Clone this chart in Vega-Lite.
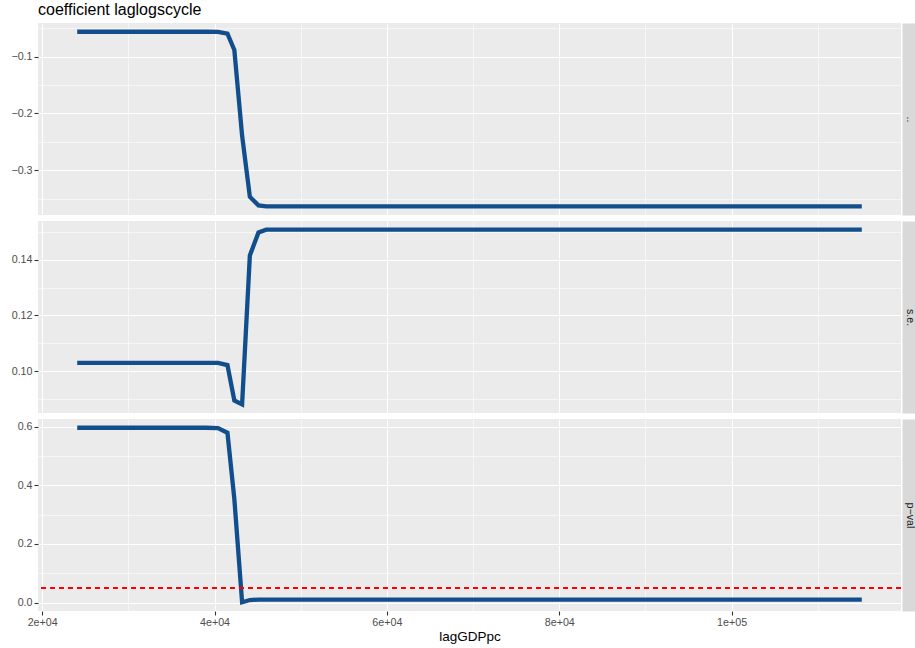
{
  "$schema": "https://vega.github.io/schema/vega-lite/v6.json",
  "background": "white",
  "padding": {"left": 10, "top": 2, "right": 0, "bottom": 4},
  "title": {"text": "coefficient laglogscycle", "anchor": "start", "frame": "group", "fontSize": 16, "fontWeight": "normal", "color": "#000000", "offset": 5, "font": "Liberation Sans"},
  "datasets": {
    "rows": [
      {"stat": "coef", "lagGDPpc": 24070, "value": -0.0558},
      {"stat": "coef", "lagGDPpc": 28000, "value": -0.0558},
      {"stat": "coef", "lagGDPpc": 32000, "value": -0.0558},
      {"stat": "coef", "lagGDPpc": 36000, "value": -0.0558},
      {"stat": "coef", "lagGDPpc": 39000, "value": -0.0558},
      {"stat": "coef", "lagGDPpc": 40400, "value": -0.0560},
      {"stat": "coef", "lagGDPpc": 41500, "value": -0.059},
      {"stat": "coef", "lagGDPpc": 42300, "value": -0.088},
      {"stat": "coef", "lagGDPpc": 43200, "value": -0.239},
      {"stat": "coef", "lagGDPpc": 44100, "value": -0.347},
      {"stat": "coef", "lagGDPpc": 45100, "value": -0.362},
      {"stat": "coef", "lagGDPpc": 46000, "value": -0.3637},
      {"stat": "coef", "lagGDPpc": 55000, "value": -0.3637},
      {"stat": "coef", "lagGDPpc": 65000, "value": -0.3637},
      {"stat": "coef", "lagGDPpc": 75000, "value": -0.3637},
      {"stat": "coef", "lagGDPpc": 85000, "value": -0.3637},
      {"stat": "coef", "lagGDPpc": 95000, "value": -0.3637},
      {"stat": "coef", "lagGDPpc": 105000, "value": -0.3637},
      {"stat": "coef", "lagGDPpc": 115100, "value": -0.3637},
      {"stat": "se", "lagGDPpc": 24070, "value": 0.1030},
      {"stat": "se", "lagGDPpc": 28000, "value": 0.1030},
      {"stat": "se", "lagGDPpc": 32000, "value": 0.1030},
      {"stat": "se", "lagGDPpc": 36000, "value": 0.1030},
      {"stat": "se", "lagGDPpc": 39000, "value": 0.1030},
      {"stat": "se", "lagGDPpc": 40400, "value": 0.1030},
      {"stat": "se", "lagGDPpc": 41500, "value": 0.1022},
      {"stat": "se", "lagGDPpc": 42300, "value": 0.0895},
      {"stat": "se", "lagGDPpc": 43200, "value": 0.0881},
      {"stat": "se", "lagGDPpc": 44100, "value": 0.1415},
      {"stat": "se", "lagGDPpc": 45100, "value": 0.1498},
      {"stat": "se", "lagGDPpc": 46000, "value": 0.1508},
      {"stat": "se", "lagGDPpc": 55000, "value": 0.1508},
      {"stat": "se", "lagGDPpc": 65000, "value": 0.1508},
      {"stat": "se", "lagGDPpc": 75000, "value": 0.1508},
      {"stat": "se", "lagGDPpc": 85000, "value": 0.1508},
      {"stat": "se", "lagGDPpc": 95000, "value": 0.1508},
      {"stat": "se", "lagGDPpc": 105000, "value": 0.1508},
      {"stat": "se", "lagGDPpc": 115100, "value": 0.1508},
      {"stat": "pval", "lagGDPpc": 24070, "value": 0.596},
      {"stat": "pval", "lagGDPpc": 28000, "value": 0.596},
      {"stat": "pval", "lagGDPpc": 32000, "value": 0.596},
      {"stat": "pval", "lagGDPpc": 36000, "value": 0.596},
      {"stat": "pval", "lagGDPpc": 39000, "value": 0.596},
      {"stat": "pval", "lagGDPpc": 40400, "value": 0.595},
      {"stat": "pval", "lagGDPpc": 41500, "value": 0.579},
      {"stat": "pval", "lagGDPpc": 42300, "value": 0.353},
      {"stat": "pval", "lagGDPpc": 43200, "value": 0.001},
      {"stat": "pval", "lagGDPpc": 44100, "value": 0.0086},
      {"stat": "pval", "lagGDPpc": 45100, "value": 0.0103},
      {"stat": "pval", "lagGDPpc": 46000, "value": 0.0103},
      {"stat": "pval", "lagGDPpc": 55000, "value": 0.0103},
      {"stat": "pval", "lagGDPpc": 65000, "value": 0.0103},
      {"stat": "pval", "lagGDPpc": 75000, "value": 0.0103},
      {"stat": "pval", "lagGDPpc": 85000, "value": 0.0103},
      {"stat": "pval", "lagGDPpc": 95000, "value": 0.0103},
      {"stat": "pval", "lagGDPpc": 105000, "value": 0.0103},
      {"stat": "pval", "lagGDPpc": 115100, "value": 0.0103}
    ]
  },
  "data": {"name": "rows"},
  "spacing": 6,
  "vconcat": [
    {
      "width": 863, "height": 192,
      "transform": [{"filter": "datum.stat == 'coef'"}],
      "layer": [
        {
          "mark": {"type": "line", "opacity": 0},
          "encoding": {
            "x": {"field": "lagGDPpc", "type": "quantitative", "scale": {"domain": [19519, 119651], "nice": false, "zero": false},
                  "axis": {"orient": "top", "values": [30000, 50000, 70000, 90000, 110000], "grid": true, "gridWidth": 0.55, "labels": false, "ticks": false, "title": null}},
            "y": {"field": "value", "type": "quantitative", "scale": {"domain": [-0.379, -0.0404], "nice": false, "zero": false},
                  "axis": {"orient": "right", "values": [-0.35, -0.25, -0.15, -0.05], "grid": true, "gridWidth": 0.55, "labels": false, "ticks": false, "title": null}}
          }
        },
        {
          "mark": {"type": "line", "opacity": 0},
          "encoding": {
            "x": {"field": "lagGDPpc", "type": "quantitative", "axis": null},
            "y": {"field": "value", "type": "quantitative",
                  "axis": {"orient": "right", "offset": 8, "domain": true, "domainColor": "#D9D9D9", "domainWidth": 14, "grid": false, "labels": false, "ticks": false,
                           "title": "..", "titleAngle": 90, "titleX": 0, "titleY": 96, "titleAlign": "center", "titleBaseline": "middle", "titleFontSize": 10.7, "titleColor": "#1A1A1A", "titleFontWeight": "normal", "titlePadding": 0}}
          }
        },
        {
          "mark": {"type": "line", "color": "#124E8C", "strokeWidth": 4.3},
          "encoding": {
            "x": {"field": "lagGDPpc", "type": "quantitative",
                  "axis": {"orient": "bottom", "values": [20000, 40000, 60000, 80000, 100000], "grid": true, "gridWidth": 1.1, "labels": false, "ticks": false, "title": null}},
            "y": {"field": "value", "type": "quantitative",
                  "axis": {"orient": "left", "values": [-0.3, -0.2, -0.1], "format": ".1f", "grid": true, "gridWidth": 1.1, "title": null}}
          }
        }
      ],
      "resolve": {"axis": {"x": "independent", "y": "independent"}}
    },
    {
      "width": 863, "height": 192,
      "transform": [{"filter": "datum.stat == 'se'"}],
      "layer": [
        {
          "mark": {"type": "line", "opacity": 0},
          "encoding": {
            "x": {"field": "lagGDPpc", "type": "quantitative", "scale": {"domain": [19519, 119651], "nice": false, "zero": false},
                  "axis": {"orient": "top", "values": [30000, 50000, 70000, 90000, 110000], "grid": true, "gridWidth": 0.55, "labels": false, "ticks": false, "title": null}},
            "y": {"field": "value", "type": "quantitative", "scale": {"domain": [0.0850, 0.1539], "nice": false, "zero": false},
                  "axis": {"orient": "right", "values": [0.09, 0.11, 0.13, 0.15], "grid": true, "gridWidth": 0.55, "labels": false, "ticks": false, "title": null}}
          }
        },
        {
          "mark": {"type": "line", "opacity": 0},
          "encoding": {
            "x": {"field": "lagGDPpc", "type": "quantitative", "axis": null},
            "y": {"field": "value", "type": "quantitative",
                  "axis": {"orient": "right", "offset": 8, "domain": true, "domainColor": "#D9D9D9", "domainWidth": 14, "grid": false, "labels": false, "ticks": false,
                           "title": "s.e.", "titleAngle": 90, "titleX": 0, "titleY": 96, "titleAlign": "center", "titleBaseline": "middle", "titleFontSize": 10.7, "titleColor": "#1A1A1A", "titleFontWeight": "normal", "titlePadding": 0}}
          }
        },
        {
          "mark": {"type": "line", "color": "#124E8C", "strokeWidth": 4.3},
          "encoding": {
            "x": {"field": "lagGDPpc", "type": "quantitative",
                  "axis": {"orient": "bottom", "values": [20000, 40000, 60000, 80000, 100000], "grid": true, "gridWidth": 1.1, "labels": false, "ticks": false, "title": null}},
            "y": {"field": "value", "type": "quantitative",
                  "axis": {"orient": "left", "values": [0.10, 0.12, 0.14], "format": ".2f", "grid": true, "gridWidth": 1.1, "title": null}}
          }
        }
      ],
      "resolve": {"axis": {"x": "independent", "y": "independent"}}
    },
    {
      "width": 863, "height": 192,
      "transform": [{"filter": "datum.stat == 'pval'"}],
      "layer": [
        {
          "mark": {"type": "line", "opacity": 0},
          "encoding": {
            "x": {"field": "lagGDPpc", "type": "quantitative", "scale": {"domain": [19519, 119651], "nice": false, "zero": false},
                  "axis": {"orient": "top", "values": [30000, 50000, 70000, 90000, 110000], "grid": true, "gridWidth": 0.55, "labels": false, "ticks": false, "title": null}},
            "y": {"field": "value", "type": "quantitative", "scale": {"domain": [-0.0288, 0.6258], "nice": false, "zero": false},
                  "axis": {"orient": "right", "values": [0.1, 0.3, 0.5], "grid": true, "gridWidth": 0.55, "labels": false, "ticks": false, "title": null}}
          }
        },
        {
          "mark": {"type": "line", "opacity": 0},
          "encoding": {
            "x": {"field": "lagGDPpc", "type": "quantitative", "axis": null},
            "y": {"field": "value", "type": "quantitative",
                  "axis": {"orient": "right", "offset": 8, "domain": true, "domainColor": "#D9D9D9", "domainWidth": 14, "grid": false, "labels": false, "ticks": false,
                           "title": "p−val", "titleAngle": 90, "titleX": 0, "titleY": 96, "titleAlign": "center", "titleBaseline": "middle", "titleFontSize": 10.7, "titleColor": "#1A1A1A", "titleFontWeight": "normal", "titlePadding": 0}}
          }
        },
        {
          "mark": {"type": "line", "color": "#124E8C", "strokeWidth": 4.3},
          "encoding": {
            "x": {"field": "lagGDPpc", "type": "quantitative",
                  "axis": {"orient": "bottom", "values": [20000, 40000, 60000, 80000, 100000], "grid": true, "gridWidth": 1.1,
                           "labelExpr": "datum.value >= 100000 ? '1e+05' : format(datum.value / 10000, 'd') + 'e+04'",
                           "ticks": true, "title": "lagGDPpc", "titleFontSize": 13.5, "titleColor": "#000000", "titleFontWeight": "normal", "titlePadding": 3}},
            "y": {"field": "value", "type": "quantitative",
                  "axis": {"orient": "left", "values": [0, 0.2, 0.4, 0.6], "format": ".1f", "grid": true, "gridWidth": 1.1, "title": null}}
          }
        },
        {
          "mark": {"type": "rule", "color": "#FF0000", "strokeWidth": 1, "strokeDash": [4.5, 4.5]},
          "encoding": {"y": {"datum": 0.05, "type": "quantitative", "axis": null}}
        }
      ],
      "resolve": {"axis": {"x": "independent", "y": "independent"}}
    }
  ],
  "config": {
    "font": "Liberation Sans",
    "view": {"fill": "#EBEBEB", "stroke": null},
    "axis": {
      "domain": false,
      "gridColor": "#FFFFFF",
      "gridOpacity": 1,
      "labelFont": "Liberation Sans",
      "labelFontSize": 10.7,
      "labelColor": "#4D4D4D",
      "labelPadding": 2,
      "tickColor": "#333333",
      "tickSize": 4,
      "tickWidth": 1.1,
      "titleFont": "Liberation Sans"
    }
  }
}
